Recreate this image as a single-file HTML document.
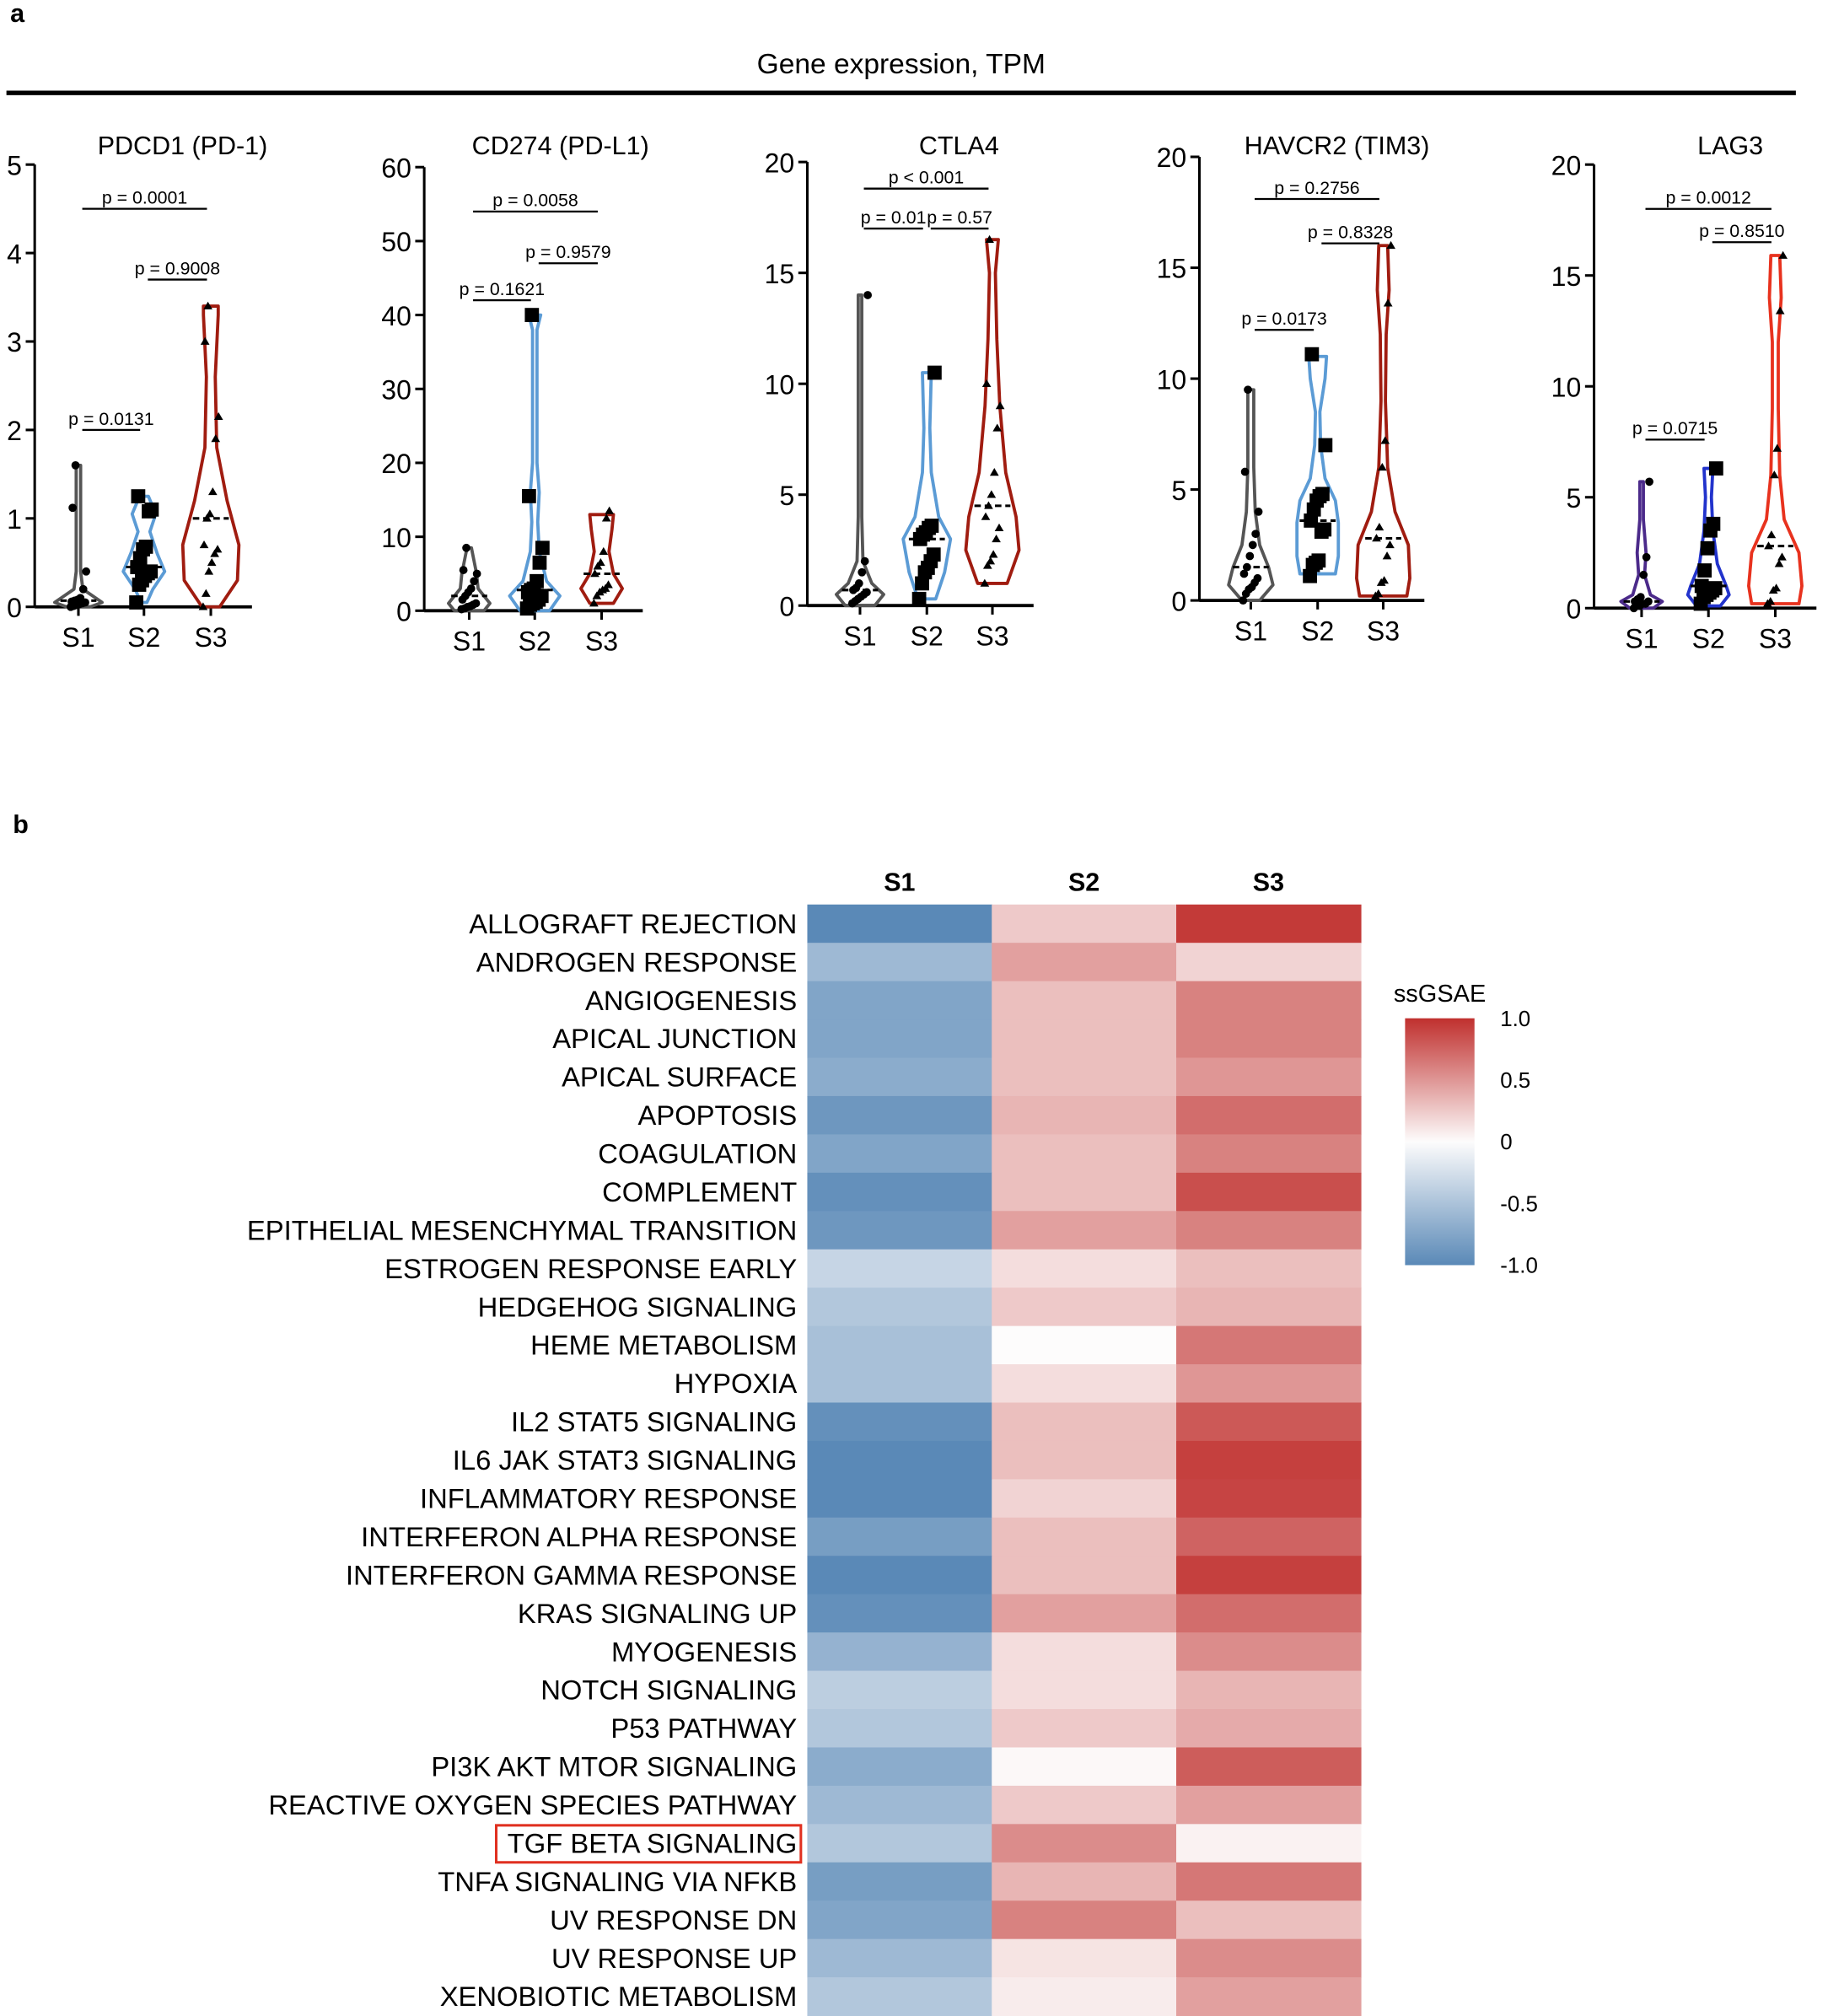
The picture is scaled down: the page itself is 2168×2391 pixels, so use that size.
<!DOCTYPE html>
<html><head><meta charset="utf-8"><style>
html,body{margin:0;padding:0;background:#fff;}
svg{display:block;font-family:"Liberation Sans",sans-serif;}
</style></head><body>
<svg id="s" width="2168" height="2391" viewBox="0 0 1422 1568" preserveAspectRatio="none" xmlns="http://www.w3.org/2000/svg">
<defs><linearGradient id="lg" x1="0" y1="0" x2="0" y2="1"><stop offset="0" stop-color="rgb(192,48,46)"/><stop offset="0.5" stop-color="rgb(253,252,252)"/><stop offset="1" stop-color="rgb(90,137,183)"/></linearGradient></defs>
<rect width="1422" height="1568" fill="#fff"/>
<text x="8" y="17" font-size="20" font-weight="bold">a</text>
<text x="10" y="648" font-size="20" font-weight="bold">b</text>
<text x="701" y="57" font-size="22" text-anchor="middle">Gene expression, TPM</text>
<rect x="5" y="70.5" width="1392" height="3.5" fill="#000"/>
</svg>
<script>
(function(){
const S=document.getElementById('s');const NS='http://www.w3.org/2000/svg';
function el(t,a,txt){const e=document.createElementNS(NS,t);for(const k in a)e.setAttribute(k,a[k]);if(txt!==undefined)e.textContent=txt;S.appendChild(e);return e;}
const panels=[
 {t:'PDCD1 (PD-1)',tx:142,ax:27,y0:472,y1:128,max:5,step:1,cx:[61,112,164],col:['#555','#5b9bd5','#a01c10'],
  v:[[[0,8],[0.05,16],[0.12,10],[0.2,3],[0.4,1.5],[1.6,1.5]],[[0.05,2],[0.2,6],[0.4,14],[0.6,9],[0.85,4],[1.05,8],[1.25,3]],[[0,6],[0.3,18],[0.7,19],[1.2,11],[1.8,4],[2.6,3],[3.3,5],[3.4,5]]],
  p:[[0,0.06,0.02,0.1,0.04,0.08,0.03,0.05,0.2,0.4,1.12,1.6,0.01,0.07],[0.05,0.35,0.4,0.45,0.3,0.38,0.55,0.65,0.68,1.08,1.1,1.25,0.25],[0,0.15,0.4,0.5,0.6,0.65,0.7,1.0,1.05,1.3,1.9,2.15,3.0,3.4]],
  b:[[0,1,2.0,'p = 0.0131'],[0,2,4.5,'p = 0.0001'],[1,2,3.7,'p = 0.9008']]},
 {t:'CD274 (PD-L1)',tx:436,ax:330,y0:475,y1:130,max:60,step:10,cx:[365,416,468],col:['#555','#5b9bd5','#a01c10'],
  v:[[[0,10],[1,14],[3,6],[5,5],[7,3],[8.5,1.5]],[[0,10],[2,17],[4,8],[8,3],[12,2],[16,3],[20,1.5],[38,1.5],[40,4]],[[1,8],[3,14],[5,8],[8,5],[11,7],[13,8]]],
  p:[[0.2,0.5,1,0.8,0.3,1.5,2,2.5,3,4,5,5.5,8.5,0.6],[0.3,1,1.5,2,2.5,3,1.2,2.8,0.8,4,6.5,8.5,15.5,40],[1,2,2.5,3,3.5,5,6,6.5,8,12.5,13.5,2.8]],
  b:[[0,1,42,'p = 0.1621'],[0,2,54,'p = 0.0058'],[1,2,47,'p = 0.9579']]},
 {t:'CTLA4',tx:746,ax:628,y0:471,y1:126,max:20,step:5,cx:[669,721,772],col:['#555','#5b9bd5','#a01c10'],
  v:[[[0,10],[0.5,16],[1,8],[2,2],[4,1.2],[14,1.2]],[[0.3,6],[1.5,12],[3,16],[4,8],[6,3],[8,2],[10.5,3]],[[1,10],[2.5,18],[4,16],[6,9],[9,5],[12,3],[15,2],[16.5,4]]],
  p:[[0.1,0.3,0.5,0.6,0.4,0.7,0.2,0.8,1,1.5,2,14],[0.3,1,1.5,2,2.3,3,3.3,3.5,3.6,3.2,1.7,10.5],[1,1.8,2,2.3,3,3.5,4,4.5,5,6,8,9,10,16.5]],
  b:[[0,1,17,'p = 0.01'],[1,2,17,'p = 0.57'],[0,2,18.8,'p < 0.001']]},
 {t:'HAVCR2 (TIM3)',tx:1040,ax:933,y0:467,y1:122,max:20,step:5,cx:[973,1025,1076],col:['#555','#5b9bd5','#a01c10'],
  v:[[[0,6],[0.7,15],[1.5,12],[2.5,6],[4,3],[6,2],[9.5,2]],[[1.2,12],[2,14],[3.5,14],[4.5,12],[5.5,5],[7,2],[8.5,1.5],[10,5],[11,6]],[[0.2,16],[1,18],[2.5,17],[4,8],[6,3],[9,1.5],[12,2],[14,4],[16,3]]],
  p:[[0,0.5,0.6,0.8,1,1.2,1.5,2,2.5,3,4,5.8,9.5,0.3],[1.1,1.7,1.8,1.6,3.1,3.2,3.6,4.1,4.5,4.7,4.8,7,11.1],[0.2,0.3,0.8,0.9,2,2.5,2.8,3.3,6,7.2,13.4,16]],
  b:[[0,1,12.2,'p = 0.0173'],[0,2,18.1,'p = 0.2756'],[1,2,16.1,'p = 0.8328']]},
 {t:'LAG3',tx:1346,ax:1240,y0:473,y1:128,max:20,step:5,cx:[1277,1329,1381],col:['#4b2a8a','#2233cc','#e8321e'],
  v:[[[0,8],[0.3,14],[0.6,6],[1.5,2],[2.5,3],[4,1.2],[5.7,1.2]],[[0.1,8],[0.6,14],[1,12],[2,6],[3.5,3],[5,2],[6.3,3]],[[0.2,16],[1,18],[2.5,16],[4,6],[6,3],[9,2],[12,2],[14,4],[15.9,3]]],
  p:[[0,0.1,0.2,0.3,0.3,0.4,0.2,0.1,0.5,1.5,2.3,5.7],[0.2,0.5,0.7,0.8,0.9,1,0.6,1.7,2.7,3.5,3.8,6.3],[0.2,0.3,0.8,0.9,2,2.3,2.8,3.3,6,7.2,13.4,15.9]],
  b:[[0,1,7.6,'p = 0.0715'],[0,2,18,'p = 0.0012'],[1,2,16.5,'p = 0.8510']]}
];
panels.forEach(function(P){
 const Y=v=>P.y0-(P.y0-P.y1)*v/P.max;
 el('text',{x:P.tx,y:120,'font-size':20,'text-anchor':'middle'},P.t);
 el('line',{x1:P.ax,y1:P.y1,x2:P.ax,y2:P.y0,stroke:'#000','stroke-width':2});
 el('line',{x1:P.ax,y1:P.y0,x2:P.cx[2]+32,y2:P.y0,stroke:'#000','stroke-width':2.5});
 for(let v=0;v<=P.max+1e-9;v+=P.step){el('line',{x1:P.ax-7,y1:Y(v),x2:P.ax,y2:Y(v),stroke:'#000','stroke-width':2});
  el('text',{x:P.ax-10,y:Y(v)+8,'font-size':21,'text-anchor':'end'},String(v));}
 ['S1','S2','S3'].forEach((s,i)=>{el('line',{x1:P.cx[i],y1:P.y0,x2:P.cx[i],y2:P.y0+7,stroke:'#000','stroke-width':2});
  el('text',{x:P.cx[i],y:P.y0+31,'font-size':21,'text-anchor':'middle'},s);});
 P.v.forEach((V,i)=>{const c=P.cx[i];const W=1.15;let d='M'+(c+V[0][1]*W)+','+Y(V[0][0]);
  for(let k=1;k<V.length;k++)d+=' L'+(c+V[k][1]*W)+','+Y(V[k][0]);
  for(let k=V.length-1;k>=0;k--)d+=' L'+(c-V[k][1]*W)+','+Y(V[k][0]);d+='Z';
  el('path',{d:d,fill:'none',stroke:P.col[i],'stroke-width':2.5,'stroke-linejoin':'round'});
  const pts=P.p[i].slice().sort((a,b)=>a-b);const med=pts[Math.floor(pts.length/2)];
  el('line',{x1:c-14,y1:Y(med),x2:c+14,y2:Y(med),stroke:'#000','stroke-width':2,'stroke-dasharray':'5,3'});
  pts.forEach((v,k)=>{const jx=c+((k*37)%17-8)*0.75;const y=Y(v);
   if(i==0)el('circle',{cx:jx,cy:y,r:3.2,fill:'#000'});
   else if(i==1)el('rect',{x:jx-5.5,y:y-5.5,width:11,height:11,fill:'#000'});
   else el('path',{d:'M'+jx+','+(y-3.5)+'L'+(jx+3.5)+','+(y+2.5)+'L'+(jx-3.5)+','+(y+2.5)+'Z',fill:'#000'});});
 });
 P.b.forEach(B=>{const x1=P.cx[B[0]]+3,x2=P.cx[B[1]]-3,y=Y(B[2]);
  el('line',{x1:x1,y1:y,x2:x2,y2:y,stroke:'#000','stroke-width':1.5});
  el('text',{x:(x1+x2)/2,y:y-4,'font-size':14,'text-anchor':'middle'},B[3]);});
});
const rows=[['ALLOGRAFT REJECTION',-0.85,0.25,0.95],['ANDROGEN RESPONSE',-0.4,0.45,0.2],['ANGIOGENESIS',-0.55,0.3,0.6],['APICAL JUNCTION',-0.55,0.3,0.6],['APICAL SURFACE',-0.5,0.3,0.5],['APOPTOSIS',-0.65,0.35,0.7],['COAGULATION',-0.55,0.3,0.6],['COMPLEMENT',-0.7,0.3,0.85],['EPITHELIAL MESENCHYMAL TRANSITION',-0.65,0.45,0.6],['ESTROGEN RESPONSE EARLY',-0.2,0.15,0.3],['HEDGEHOG SIGNALING',-0.3,0.25,0.35],['HEME METABOLISM',-0.35,0.0,0.65],['HYPOXIA',-0.35,0.15,0.5],['IL2 STAT5 SIGNALING',-0.7,0.3,0.8],['IL6 JAK STAT3 SIGNALING',-0.8,0.3,0.92],['INFLAMMATORY RESPONSE',-0.75,0.2,0.9],['INTERFERON ALPHA RESPONSE',-0.6,0.3,0.75],['INTERFERON GAMMA RESPONSE',-0.8,0.3,0.92],['KRAS SIGNALING UP',-0.7,0.45,0.7],['MYOGENESIS',-0.45,0.15,0.55],['NOTCH SIGNALING',-0.25,0.15,0.35],['P53 PATHWAY',-0.3,0.25,0.4],['PI3K AKT MTOR SIGNALING',-0.5,0.02,0.78],['REACTIVE OXYGEN SPECIES PATHWAY',-0.4,0.25,0.45],['TGF BETA SIGNALING',-0.3,0.55,0.05],['TNFA SIGNALING VIA NFKB',-0.6,0.35,0.65],['UV RESPONSE DN',-0.55,0.6,0.3],['UV RESPONSE UP',-0.4,0.12,0.55],['XENOBIOTIC METABOLISM',-0.3,0.08,0.45]];
function colr(v){const w=[253,252,252];const r=[192,48,46],b=[90,137,183];let t=Math.abs(v);if(v<0)t=Math.min(1,t*1.2+0.1);t=Math.min(1,t);const e=v>=0?r:b;
 return 'rgb('+w.map((x,i)=>Math.round(x+(e[i]-x)*t)).join(',')+')';}
const hx=[628,771.5,915],cw=143.5,hTop=703.5,rh=29.8;
['S1','S2','S3'].forEach((s,i)=>el('text',{x:hx[i]+cw/2,y:693,'font-size':20,'font-weight':'bold','text-anchor':'middle'},s));
rows.forEach((R,k)=>{const y=hTop+k*rh;for(let i=0;i<3;i++)el('rect',{x:hx[i],y:y,width:cw+0.5,height:rh+0.5,fill:colr(R[i+1])});
 el('text',{x:620,y:y+rh/2+7.5,'font-size':21.5,'text-anchor':'end'},R[0]);});
el('rect',{x:386,y:hTop+24*rh+1,width:237,height:rh-1,fill:'none',stroke:'#e03020','stroke-width':2});
el('rect',{x:1093,y:792,width:54,height:192,fill:'url(#lg)'});
el('text',{x:1120,y:779,'font-size':19,'text-anchor':'middle'},'ssGSAE');
[['1.0',792],['0.5',840],['0',888],['-0.5',936],['-1.0',984]].forEach(a=>el('text',{x:1167,y:a[1]+6,'font-size':17},a[0]));
})();
</script>
</body></html>
